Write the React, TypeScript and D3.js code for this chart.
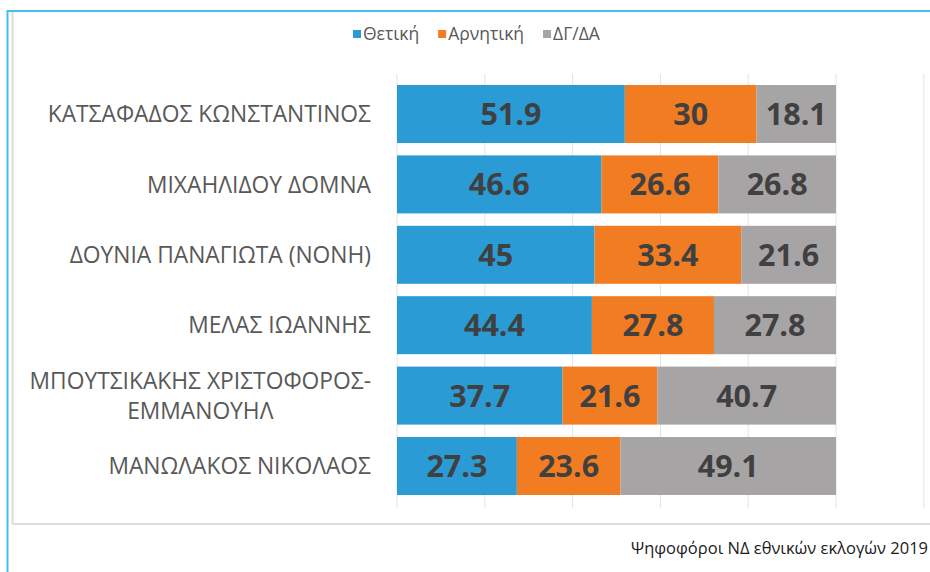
import React, { useEffect, useRef } from "react";
import * as d3 from "d3";

const categories: string[][] = [
  ["ΚΑΤΣΑΦΑΔΟΣ ΚΩΝΣΤΑΝΤΙΝΟΣ"],
  ["ΜΙΧΑΗΛΙΔΟΥ ΔΟΜΝΑ"],
  ["ΔΟΥΝΙΑ ΠΑΝΑΓΙΩΤΑ (ΝΟΝΗ)"],
  ["ΜΕΛΑΣ ΙΩΑΝΝΗΣ"],
  ["ΜΠΟΥΤΣΙΚΑΚΗΣ ΧΡΙΣΤΟΦΟΡΟΣ-", "ΕΜΜΑΝΟΥΗΛ"],
  ["ΜΑΝΩΛΑΚΟΣ ΝΙΚΟΛΑΟΣ"],
];
const positive = [51.9, 46.6, 45, 44.4, 37.7, 27.3];
const negative = [30, 26.6, 33.4, 27.8, 21.6, 23.6];
const undecided = [18.1, 26.8, 21.6, 27.8, 40.7, 49.1];
const seriesNames = ["Θετική", "Αρνητική", "ΔΓ/ΔΑ"];
const seriesColors = ["#2b9bd6", "#f27c21", "#a6a4a5"];
const xTicks = [0, 20, 40, 60, 80, 100, 120];
const footer = "Ψηφοφόροι ΝΔ εθνικών εκλογών 2019";

const W = 930;
const H = 572;
const FONT = "'Open Sans', 'Noto Sans', sans-serif";

export default function App() {
  const ref = useRef<SVGSVGElement>(null);

  useEffect(() => {
    const svg = d3.select(ref.current);
    svg.selectAll("*").remove();

    svg.append("rect").attr("width", W).attr("height", H).attr("fill", "#fff");

    // outer blue frame
    svg.append("line").attr("x1", 7).attr("x2", W).attr("y1", 11).attr("y2", 11)
      .attr("stroke", "#45bdf0").attr("stroke-width", 2);
    svg.append("line").attr("x1", 7.5).attr("x2", 7.5).attr("y1", 10).attr("y2", H)
      .attr("stroke", "#45bdf0").attr("stroke-width", 2);
    // inner chart frame
    svg.append("line").attr("x1", 12.5).attr("x2", 12.5).attr("y1", 12).attr("y2", 524)
      .attr("stroke", "#dcdcdc").attr("stroke-width", 2);
    svg.append("line").attr("x1", 12.5).attr("x2", W).attr("y1", 524).attr("y2", 524)
      .attr("stroke", "#dcdcdc").attr("stroke-width", 2);

    const x = d3.scaleLinear().domain([0, 120]).range([397, 923.8]);
    const idx = categories.map((_, i) => String(i));
    const y = d3.scaleBand().domain(idx).range([78.8, 501.2]).paddingInner(0.176).paddingOuter(0.088);

    // gridlines
    svg.append("g").selectAll("line").data(xTicks).join("line")
      .attr("x1", (d) => x(d)).attr("x2", (d) => x(d))
      .attr("y1", 74).attr("y2", 508)
      .attr("stroke", "#e4e4e4").attr("stroke-width", 1);

    const rows = categories.map((c, i) => ({ key: String(i), vals: [positive[i], negative[i], undecided[i]] }));
    const stackData = rows.map((r) => ({ key: r.key, s0: r.vals[0], s1: r.vals[1], s2: r.vals[2] }));
    const stack = d3.stack<any>().keys(["s0", "s1", "s2"]);
    const series = stack(stackData);

    const g = svg.append("g");
    series.forEach((s, si) => {
      const sg = g.append("g");
      sg.selectAll("rect").data(s).join("rect")
        .attr("x", (d) => x(d[0]))
        .attr("width", (d) => x(d[1]) - x(d[0]))
        .attr("y", (d) => y(d.data.key)!)
        .attr("height", y.bandwidth())
        .attr("fill", seriesColors[si]);
      sg.selectAll("text").data(s).join("text")
        .attr("x", (d) => (x(d[0]) + x(d[1])) / 2)
        .attr("y", (d) => y(d.data.key)! + y.bandwidth() / 2)
        .attr("dy", "0.36em")
        .attr("text-anchor", "middle")
        .attr("font-family", FONT)
        .attr("font-weight", 700)
        .attr("font-size", 30.5)
        .attr("fill", "#404040")
        .text((d) => String(+(d[1] - d[0]).toFixed(1)));
    });

    // category labels
    const labelRight = 371;
    const lineH = 30;
    categories.forEach((lines, i) => {
      const cy = y(String(i))! + y.bandwidth() / 2;
      const tg = svg.append("g");
      const texts = lines.map((ln, li) =>
        tg.append("text")
          .attr("font-family", FONT)
          .attr("font-size", 22.8)
          .attr("fill", "#595959")
          .attr("text-anchor", "middle")
          .attr("y", cy + (li - (lines.length - 1) / 2) * lineH)
          .attr("dy", "0.36em")
          .text(ln)
      );
      const widths = texts.map((t) => (t.node() as SVGTextElement).getComputedTextLength());
      const maxW = Math.max(...widths);
      const center = labelRight - maxW / 2;
      texts.forEach((t) => t.attr("x", center));
    });

    // legend
    const legend = svg.append("g");
    let lx = 353;
    const ly = 34;
    seriesNames.forEach((name, i) => {
      legend.append("rect").attr("x", lx).attr("y", ly - 4).attr("width", 8).attr("height", 8)
        .attr("fill", seriesColors[i]);
      const t = legend.append("text").attr("x", lx + 10).attr("y", ly).attr("dy", "0.36em")
        .attr("font-family", FONT).attr("font-size", 17.5).attr("fill", "#595959").text(name);
      const w = (t.node() as SVGTextElement).getComputedTextLength();
      lx += 10 + w + 19;
    });

    // footer
    svg.append("text").attr("x", 631).attr("y", 548).attr("dy", "0.36em")
      .attr("font-family", FONT).attr("font-size", 16.5).attr("fill", "#1a1a1a").text(footer);
  }, []);

  return (
    <svg
      ref={ref}
      width={W}
      height={H}
      style={{ position: "absolute", left: 0, top: 0, display: "block" }}
    />
  );
}
